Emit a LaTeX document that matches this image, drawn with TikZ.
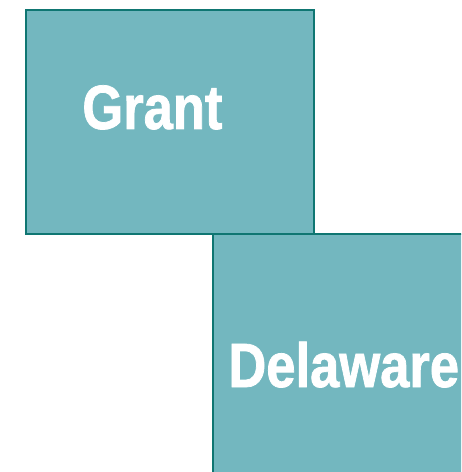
\documentclass[tikz,border=0pt]{standalone}
\usepackage{fontspec}
\newfontfamily\boxfont{Liberation Sans}[FakeStretch=0.84,FakeBold=1.2]
\definecolor{boxfill}{HTML}{73B7BF}
\definecolor{boxline}{HTML}{0F7672}
\begin{document}
\begin{tikzpicture}
		% two overlapping county boxes
		[x=0.02cm,y=-0.02cm,
		box/.style={rectangle,draw=boxline,fill=boxfill,line width=1.1pt,anchor=north west,inner sep=0pt},
		county/.style={anchor=base west,inner sep=0pt,text=white,font=\boxfont\bfseries\fontsize{35.6}{40}\selectfont}]
		\useasboundingbox (0,0) rectangle (461,472);
		\clip (0,0) rectangle (461,472);

		\node[box,minimum width=5.76cm,minimum height=4.48cm] (grant) at (25,9) {};
		\node[box,minimum width=5.4cm,minimum height=5.2cm] (delaware) at (212,233) {};

		\node[county] (grantname) at (82,129) {Grant};
		\node[county] (delawarename) at (228,387) {Delaware};
	\end{tikzpicture}
\end{document}
